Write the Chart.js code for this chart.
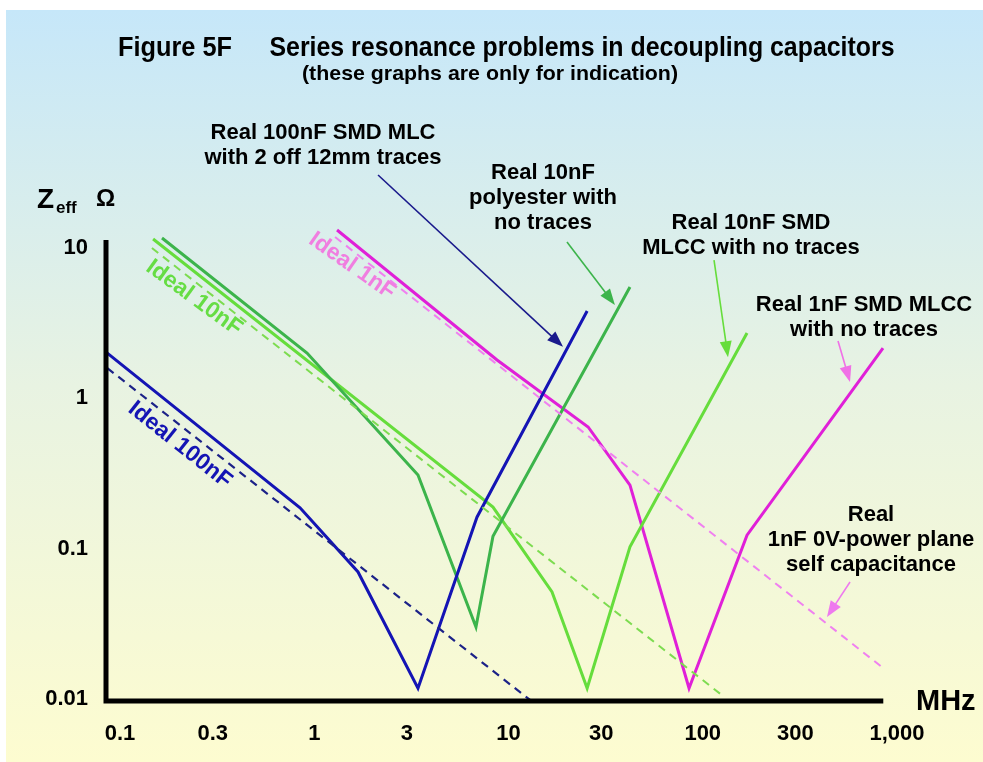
<!DOCTYPE html>
<html>
<head>
<meta charset="utf-8">
<script src="https://cdn.jsdelivr.net/npm/chart.js@4.4.0/dist/chart.umd.min.js"></script>
<style>
  html, body { margin: 0; padding: 0; background: #fff; }
  #wrap { width: 983px; height: 762px; }
</style>
</head>
<body>
<div id="wrap"><canvas id="chart"></canvas></div>
<script>
// frequency in MHz, |Z| in ohms
const real100nF_f = [0.086, 0.845, 1.68, 3.42, 6.88, 25.4];
const real100nF_z = [2.00, 0.187, 0.070, 0.0118, 0.162, 3.81];
const ideal100nF_f = [0.086, 12.9];
const ideal100nF_z = [1.59, 0.00985];
const poly10nF_f = [0.1645, 0.918, 3.42, 6.80, 8.32, 42.2];
const poly10nF_z = [11.66, 2.00, 0.309, 0.0301, 0.121, 5.50];
const smd10nF_f = [0.148, 8.32, 16.75, 25.4, 42.2, 169];
const smd10nF_z = [11.48, 0.189, 0.0515, 0.0118, 0.103, 2.72];
const ideal10nF_f = [0.146, 125.6];
const ideal10nF_z = [10.0, 0.0106];
const smd1nF_f = [1.31, 8.73, 25.7, 42.2, 85.0, 169, 847];
const smd1nF_z = [13.18, 1.80, 0.645, 0.265, 0.0118, 0.123, 2.16];
const ideal1nF_f = [1.28, 847];
const ideal1nF_z = [11.84, 0.0161];

const xTicks = [0.1, 0.3, 1, 3, 10, 30, 100, 300, 1000];
const xTickLabels = ["0.1", "0.3", "1", "3", "10", "30", "100", "300", "1,000"];
const yTicks = [0.01, 0.1, 1, 10];
const yTickLabels = ["0.01", "0.1", "1", "10"];

// callout arrows (tail -> head), in MHz / ohms
const arrowFrom_f = [2.13, 20.0, 114.3, 497, 573];
const arrowFrom_z = [30.6, 10.96, 8.32, 2.41, 0.0600];
const arrowTo_f = [19.08, 35.3, 134.9, 573, 436];
const arrowTo_z = [2.20, 4.18, 1.88, 1.284, 0.0351];
const arrowColors = ["#1a1a8c", "#3cb44b", "#66dd3c", "#f070e6", "#ee7aee"];

const BLUE = "#1414b4";
const NAVY = "#1c2288";
const DKGREEN = "#3cb44b";
const LTGREEN = "#66dd3c";
const MAGENTA = "#e020d8";
const PINK = "#f080f0";

const FONT = "'Liberation Sans', Arial, sans-serif";

function pts(f, z) { return f.map((v, i) => ({ x: v, y: z[i] })); }

function fitText(ctx, s, cx, cy, size, w) {
  ctx.font = `bold ${size}px ${FONT}`;
  const m = ctx.measureText(s).width;
  ctx.save();
  ctx.translate(cx, cy);
  ctx.scale(w / m, 1);
  ctx.textAlign = "center";
  ctx.textBaseline = "middle";
  ctx.fillText(s, 0, 0);
  ctx.restore();
}

function arrow(ctx, x0, y0, x1, y1, color) {
  const a = Math.atan2(y1 - y0, x1 - x0), L = 16, W = 6;
  ctx.strokeStyle = color;
  ctx.fillStyle = color;
  ctx.lineWidth = 1.6;
  ctx.beginPath();
  ctx.moveTo(x0, y0);
  ctx.lineTo(x1 - L * 0.8 * Math.cos(a), y1 - L * 0.8 * Math.sin(a));
  ctx.stroke();
  ctx.beginPath();
  ctx.moveTo(x1, y1);
  ctx.lineTo(x1 - L * Math.cos(a) + W * Math.sin(a), y1 - L * Math.sin(a) - W * Math.cos(a));
  ctx.lineTo(x1 - L * Math.cos(a) - W * Math.sin(a), y1 - L * Math.sin(a) + W * Math.cos(a));
  ctx.closePath();
  ctx.fill();
}

const notes = [
  { lines: ["Real 100nF SMD MLC", "with 2 off 12mm traces"], x: 323, y: 133 },
  { lines: ["Real 10nF", "polyester with", "no traces"], x: 543, y: 173 },
  { lines: ["Real 10nF SMD", "MLCC with no traces"], x: 751, y: 223 },
  { lines: ["Real 1nF SMD MLCC", "with no traces"], x: 864, y: 305 },
  { lines: ["Real", "1nF 0V-power plane", "self capacitance"], x: 871, y: 515 }
];

const tilted = [
  { text: "Ideal 1nF", x: 352, y: 266, angle: 35, color: "#f07ee0" },
  { text: "Ideal 10nF", x: 194, y: 298, angle: 36, color: "#66dd44" },
  { text: "Ideal 100nF", x: 180, y: 445, angle: 38.5, color: BLUE }
];

const decor = {
  id: "decor",
  beforeDraw(chart) {
    const { ctx, width, height } = chart;
    ctx.save();
    ctx.fillStyle = "#fff";
    ctx.fillRect(0, 0, width, height);
    const g = ctx.createLinearGradient(0, 10, 0, height);
    g.addColorStop(0, "#c6e7f9");
    g.addColorStop(0.5, "#e8f3e2");
    g.addColorStop(1, "#fdfcd0");
    ctx.fillStyle = g;
    ctx.fillRect(6, 10, width - 6, height - 10);
    ctx.restore();
  },
  afterDraw(chart) {
    const { ctx, chartArea } = chart;
    const xs = chart.scales.x, ys = chart.scales.y;
    ctx.save();
    // axes
    ctx.strokeStyle = "#000";
    ctx.lineWidth = 5;
    ctx.beginPath();
    ctx.moveTo(chartArea.left, chartArea.top + 20);
    ctx.lineTo(chartArea.left, chartArea.bottom + 2.5);
    ctx.moveTo(chartArea.left, chartArea.bottom);
    ctx.lineTo(xs.getPixelForValue(850), chartArea.bottom);
    ctx.stroke();

    ctx.fillStyle = "#000";
    // title
    fitText(ctx, "Figure 5F", 175, 48, 28, 114);
    fitText(ctx, "Series resonance problems in decoupling capacitors", 582, 48, 28, 625);
    fitText(ctx, "(these graphs are only for indication)", 490, 74, 21, 376);

    // axis titles
    ctx.textBaseline = "alphabetic";
    ctx.textAlign = "left";
    ctx.font = `bold 28px ${FONT}`;
    ctx.fillText("Z", 37, 208);
    ctx.font = `bold 17px ${FONT}`;
    ctx.fillText("eff", 56, 213);
    ctx.font = `bold 24px ${FONT}`;
    ctx.fillText("Ω", 96, 206);
    ctx.font = `bold 29px ${FONT}`;
    ctx.fillText("MHz", 916, 710);

    // callout texts
    ctx.textAlign = "center";
    ctx.textBaseline = "middle";
    ctx.font = `bold 22px ${FONT}`;
    notes.forEach(n => n.lines.forEach((s, i) => ctx.fillText(s, n.x, n.y + i * 25)));

    tilted.forEach(t => {
      ctx.save();
      ctx.translate(t.x, t.y);
      ctx.rotate(t.angle * Math.PI / 180);
      ctx.fillStyle = t.color;
      ctx.font = `bold 23px ${FONT}`;
      ctx.fillText(t.text, 0, 0);
      ctx.restore();
    });

    arrowFrom_f.forEach((f, i) => {
      arrow(ctx,
        xs.getPixelForValue(f), ys.getPixelForValue(arrowFrom_z[i]),
        xs.getPixelForValue(arrowTo_f[i]), ys.getPixelForValue(arrowTo_z[i]),
        arrowColors[i]);
    });
    ctx.restore();
  }
};

const solid = (label, data, color) => ({
  label, data, borderColor: color, backgroundColor: color,
  borderWidth: 3, pointRadius: 0, tension: 0
});
const dashed = (label, data, color, w) => ({
  label, data, borderColor: color, backgroundColor: color,
  borderWidth: w, borderDash: [8, 6], pointRadius: 0, tension: 0
});

new Chart(document.getElementById("chart").getContext("2d"), {
  type: "line",
  data: {
    datasets: [
      dashed("Ideal 100nF", pts(ideal100nF_f, ideal100nF_z), NAVY, 2.2),
      dashed("Ideal 10nF", pts(ideal10nF_f, ideal10nF_z), "#7ddc50", 2),
      dashed("Ideal 1nF / 0V-power plane", pts(ideal1nF_f, ideal1nF_z), PINK, 2),
      solid("Real 100nF SMD MLC, 2 off 12mm traces", pts(real100nF_f, real100nF_z), BLUE),
      solid("Real 10nF polyester", pts(poly10nF_f, poly10nF_z), DKGREEN),
      solid("Real 10nF SMD MLCC", pts(smd10nF_f, smd10nF_z), LTGREEN),
      solid("Real 1nF SMD MLCC", pts(smd1nF_f, smd1nF_z), MAGENTA)
    ]
  },
  options: {
    responsive: true,
    maintainAspectRatio: false,
    animation: false,
    layout: { padding: { top: 220, right: 86, left: 0, bottom: 0 } },
    plugins: { legend: { display: false }, title: { display: false }, tooltip: { enabled: false } },
    scales: {
      x: {
        type: "logarithmic",
        min: 0.0847,
        max: 1000,
        afterBuildTicks: (s) => { s.ticks = xTicks.map(v => ({ value: v })); },
        afterFit: (s) => { s.height = 61; },
        grid: { display: false, drawTicks: false },
        border: { display: false },
        ticks: {
          autoSkip: false, maxRotation: 0, padding: 20, color: "#000",
          font: { family: FONT, size: 22, weight: "bold" },
          callback: (v) => xTickLabels[xTicks.indexOf(v)]
        }
      },
      y: {
        type: "logarithmic",
        min: 0.009698,
        max: 15.36,
        afterBuildTicks: (s) => { s.ticks = yTicks.map(v => ({ value: v })); },
        afterFit: (s) => { s.width = 106; },
        grid: { display: false, drawTicks: false },
        border: { display: false },
        ticks: {
          autoSkip: false, padding: 18, color: "#000",
          font: { family: FONT, size: 22, weight: "bold" },
          callback: (v) => yTickLabels[yTicks.indexOf(v)]
        }
      }
    }
  },
  plugins: [decor]
});
</script>
</body>
</html>
